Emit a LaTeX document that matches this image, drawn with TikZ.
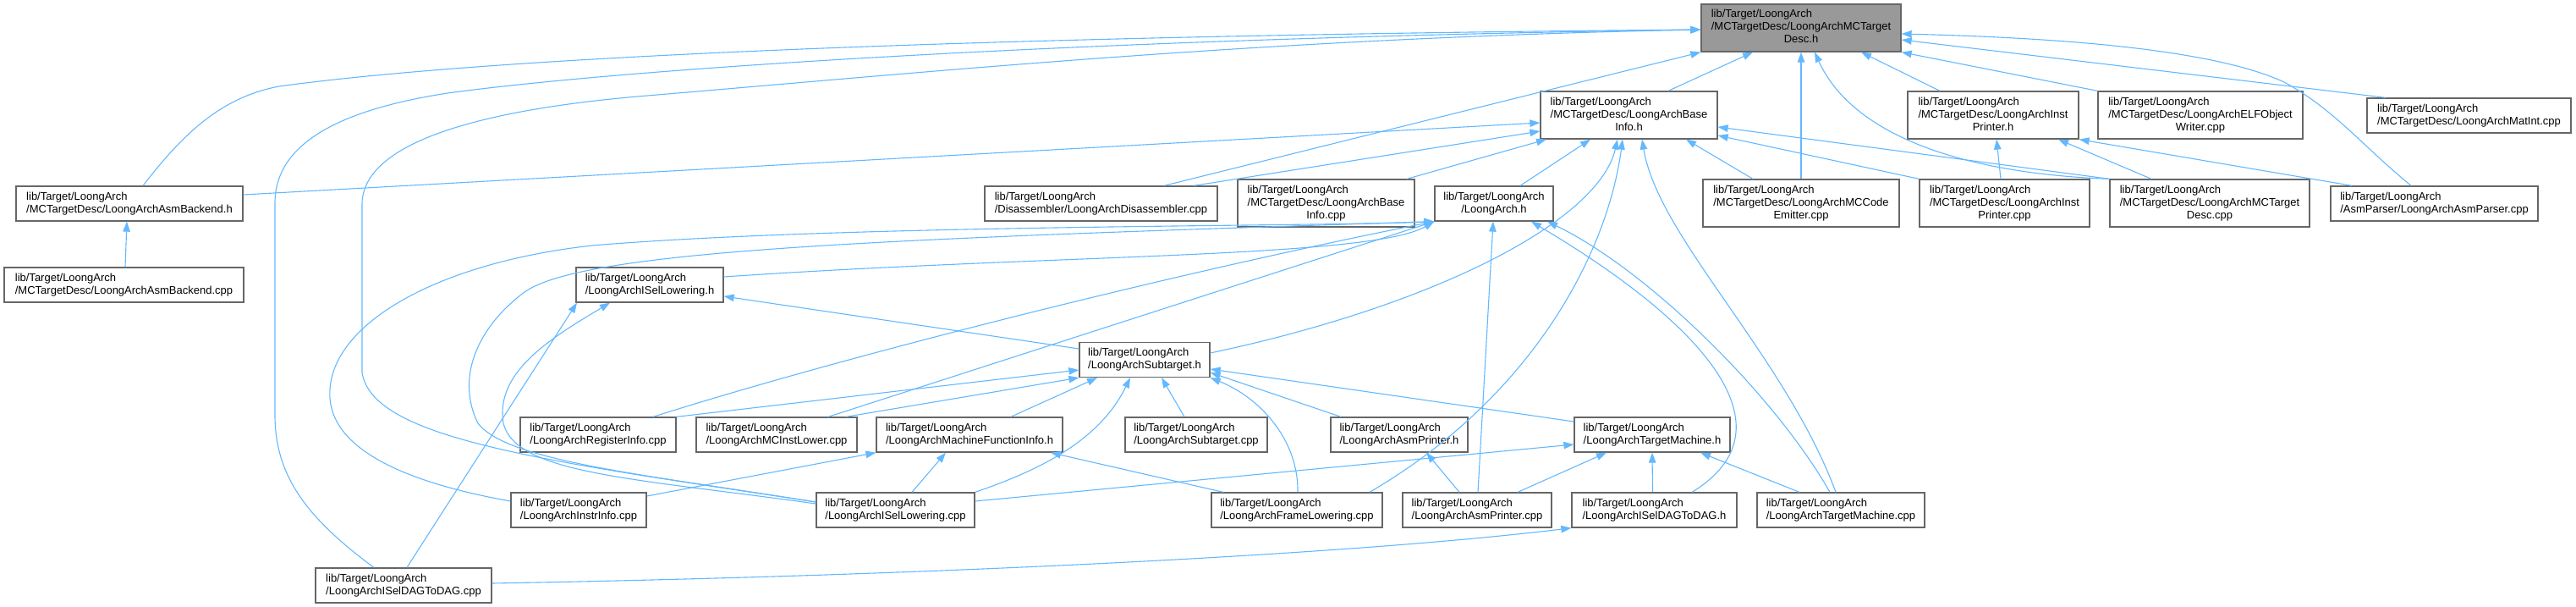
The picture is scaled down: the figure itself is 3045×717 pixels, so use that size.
\documentclass[tikz,border=0pt]{standalone}
\usepackage{fontspec}
\setmainfont{Liberation Sans}
\usetikzlibrary{arrows.meta}
\definecolor{edgeblue}{HTML}{63B8FF}
\definecolor{boxborder}{HTML}{666666}
\definecolor{rootfill}{HTML}{999999}
\newcommand{\twol}[2]{\begin{tabular}{@{}l@{}}#1\\\multicolumn{1}{@{}c@{}}{#2}\end{tabular}}
\newcommand{\threel}[3]{\begin{tabular}{@{}l@{}}#1\\#2\\\multicolumn{1}{@{}c@{}}{#3}\end{tabular}}
\tikzset{
  box/.style={draw=boxborder, line width=1.3pt, fill=white, inner sep=0pt, rectangle,
    font=\fontsize{13}{15}\selectfont, text=black},
  two/.style={minimum height=41pt},
  three/.style={minimum height=56pt},
  edge/.style={draw=edgeblue, line width=1.1pt, -{Triangle[length=12pt,width=8.5pt]}}
}
\begin{document}
\begin{tikzpicture}[x=1pt,y=-1pt]
\useasboundingbox (0,0) rectangle (3045,717);
% nodes
\node[box,three,minimum width=236pt,fill=rootfill] (R) at (2129,33) {\threel{lib/Target/LoongArch}{/MCTargetDesc/LoongArchMCTarget}{Desc.h}};
\node[box,two,minimum width=268pt] (ABh) at (153,240.5) {\twol{lib/Target/LoongArch}{/MCTargetDesc/LoongArchAsmBackend.h}};
\node[box,two,minimum width=283pt] (ABc) at (146.5,336.5) {\twol{lib/Target/LoongArch}{/MCTargetDesc/LoongArchAsmBackend.cpp}};
\node[box,two,minimum width=174pt] (ILh) at (768,336.5) {\twol{lib/Target/LoongArch}{/LoongArchISelLowering.h}};
\node[box,three,minimum width=209pt] (BIh) at (1925.5,136) {\threel{lib/Target/LoongArch}{/MCTargetDesc/LoongArchBase}{Info.h}};
\node[box,two,minimum width=275pt] (Dis) at (1301.5,240.5) {\twol{lib/Target/LoongArch}{/Disassembler/LoongArchDisassembler.cpp}};
\node[box,three,minimum width=209pt] (BIc) at (1567.5,240) {\threel{lib/Target/LoongArch}{/MCTargetDesc/LoongArchBase}{Info.cpp}};
\node[box,two,minimum width=140pt] (LAh) at (1766,240.5) {\twol{lib/Target/LoongArch}{/LoongArch.h}};
\node[box,three,minimum width=202pt] (IPh) at (2356,136) {\threel{lib/Target/LoongArch}{/MCTargetDesc/LoongArchInst}{Printer.h}};
\node[box,three,minimum width=242pt] (ELF) at (2601,136) {\threel{lib/Target/LoongArch}{/MCTargetDesc/LoongArchELFObject}{Writer.cpp}};
\node[box,two,minimum width=241pt] (MI) at (2918.5,136.5) {\twol{lib/Target/LoongArch}{/MCTargetDesc/LoongArchMatInt.cpp}};
\node[box,three,minimum width=232pt] (MCE) at (2129,240) {\threel{lib/Target/LoongArch}{/MCTargetDesc/LoongArchMCCode}{Emitter.cpp}};
\node[box,three,minimum width=201pt] (IPc) at (2369.5,240) {\threel{lib/Target/LoongArch}{/MCTargetDesc/LoongArchInst}{Printer.cpp}};
\node[box,three,minimum width=236pt] (MTDc) at (2612,240) {\threel{lib/Target/LoongArch}{/MCTargetDesc/LoongArchMCTarget}{Desc.cpp}};
\node[box,two,minimum width=245pt] (AP) at (2877.5,240.5) {\twol{lib/Target/LoongArch}{/AsmParser/LoongArchAsmParser.cpp}};
\node[box,two,minimum width=154pt] (STh) at (1353,425) {\twol{lib/Target/LoongArch}{/LoongArchSubtarget.h}};
\node[box,two,minimum width=184pt] (RI) at (707,513.5) {\twol{lib/Target/LoongArch}{/LoongArchRegisterInfo.cpp}};
\node[box,two,minimum width=190pt] (MCIL) at (918,513.5) {\twol{lib/Target/LoongArch}{/LoongArchMCInstLower.cpp}};
\node[box,two,minimum width=220pt] (MFI) at (1146,513.5) {\twol{lib/Target/LoongArch}{/LoongArchMachineFunctionInfo.h}};
\node[box,two,minimum width=168pt] (STc) at (1414,513.5) {\twol{lib/Target/LoongArch}{/LoongArchSubtarget.cpp}};
\node[box,two,minimum width=162pt] (APh) at (1654,513.5) {\twol{lib/Target/LoongArch}{/LoongArchAsmPrinter.h}};
\node[box,two,minimum width=184pt] (TMh) at (1953,513.5) {\twol{lib/Target/LoongArch}{/LoongArchTargetMachine.h}};
\node[box,two,minimum width=160pt] (II) at (684,602.5) {\twol{lib/Target/LoongArch}{/LoongArchInstrInfo.cpp}};
\node[box,two,minimum width=187pt] (ILc) at (1058.5,602.5) {\twol{lib/Target/LoongArch}{/LoongArchISelLowering.cpp}};
\node[box,two,minimum width=202pt] (FL) at (1533,602.5) {\twol{lib/Target/LoongArch}{/LoongArchFrameLowering.cpp}};
\node[box,two,minimum width=176pt] (APc) at (1746,602.5) {\twol{lib/Target/LoongArch}{/LoongArchAsmPrinter.cpp}};
\node[box,two,minimum width=195pt] (IDh) at (1955.5,602.5) {\twol{lib/Target/LoongArch}{/LoongArchISelDAGToDAG.h}};
\node[box,two,minimum width=198pt] (TMc) at (2176,602.5) {\twol{lib/Target/LoongArch}{/LoongArchTargetMachine.cpp}};
\node[box,two,minimum width=208pt] (IDc) at (477,691.5) {\twol{lib/Target/LoongArch}{/LoongArchISelDAGToDAG.cpp}};
% edges
\draw[edge] ([xshift=1.5pt]ABc.north) -- ([xshift=-3pt]ABh.south);
\draw[edge] ([xshift=16pt]ABh.north) .. controls (215,160) and (260,115) .. (330,102) .. controls (600,65) and (1200,42) .. ([yshift=-2pt]R.west);
\draw[edge] ([yshift=10.5pt]ABh.east) -- ([yshift=-9pt]BIh.west);
\draw[edge] ([xshift=46.5pt]BIh.north) -- ([xshift=-57pt]R.south);
\draw[edge] ([xshift=74.5pt]Dis.north) -- (R.south west);
\draw[edge] ([xshift=109.5pt]Dis.north) -- ([yshift=-19pt]BIh.west);
\draw[edge] ([xshift=95.5pt]BIc.north) -- ([xshift=-97.5pt]BIh.south);
\draw[edge] ([xshift=31pt]LAh.north) -- ([xshift=-45.5pt]BIh.south);
\draw[edge] ([yshift=9.5pt]ILh.east) .. controls (1250,300) and (1620,305) .. (LAh.south west);
\draw[edge] ([yshift=10.5pt]II.west) .. controls (480,570) and (385,530) .. (390,460) .. controls (395,380) and (520,310) .. (700,290) .. controls (1000,265) and (1550,268) .. (LAh.south west);
\draw[edge] ([yshift=9.5pt]ILc.west) .. controls (760,560) and (600,545) .. (565,500) .. controls (540,450) and (560,390) .. (620,345) .. controls (690,295) and (1050,282) .. (LAh.south west);
\draw[edge] ([xshift=65pt]RI.north) .. controls (1000,420) and (1400,320) .. (LAh.south west);
\draw[edge] ([xshift=61pt]MCIL.north) -- (LAh.south west);
\draw[edge] ([xshift=1pt]APc.north) -- ([xshift=-1pt]LAh.south);
\draw[edge] ([xshift=44.5pt]IDh.north) .. controls (2125,505) and (2010,380) .. ([xshift=44pt]LAh.south);
\draw[edge] ([xshift=-13pt]TMc.north) .. controls (2100,470) and (1950,320) .. ([xshift=63pt]LAh.south);
\draw[edge] ([yshift=13pt]STh.west) -- ([yshift=-13.5pt]ILh.east);
\draw[edge] ([xshift=4pt]IDc.north) -- ([xshift=-86pt]ILh.south);
\draw[edge] ([yshift=7.5pt]ILc.west) .. controls (750,565) and (610,560) .. (595,500) .. controls (585,440) and (650,400) .. ([xshift=-47pt]ILh.south);
\draw[edge] (RI.north east) -- ([yshift=-12pt]STh.west);
\draw[edge] ([xshift=82pt]MCIL.north) -- (STh.south west);
\draw[edge] ([xshift=49pt]MFI.north) -- ([xshift=-56pt]STh.south);
\draw[edge] (ILc.north east) .. controls (1230,555) and (1300,520) .. ([xshift=-17pt]STh.south);
\draw[edge] ([xshift=-14pt]STc.north) -- ([xshift=20pt]STh.south);
\draw[edge] ([xshift=1pt]FL.north) .. controls (1535,520) and (1490,470) .. (STh.south east);
\draw[edge] ([xshift=-69pt]APh.north) -- ([yshift=-15pt]STh.east);
\draw[edge] ([yshift=15.5pt]TMh.west) -- ([yshift=-11pt]STh.east);
\draw[edge] ([yshift=8pt]STh.east) .. controls (1700,360) and (1890,260) .. ([xshift=-13.5pt]BIh.south);
\draw[edge] ([xshift=19.5pt]ILc.north) -- ([xshift=-28pt]MFI.south);
\draw[edge] ([xshift=-87pt]FL.north) -- ([xshift=96pt]MFI.south);
\draw[edge] ([yshift=16.5pt]II.east) -- (MFI.south west);
\draw[edge] ([xshift=-21pt]APc.north) -- ([xshift=32pt]APh.south);
\draw[edge] ([yshift=10.5pt]ILc.east) -- ([yshift=-11.5pt]TMh.west);
\draw[edge] ([xshift=48pt]APc.north) -- ([xshift=-54pt]TMh.south);
\draw[edge] ([xshift=-2pt]IDh.north) -- (TMh.south);
\draw[edge] ([xshift=-49pt]TMc.north) -- ([xshift=57pt]TMh.south);
\draw[edge] ([yshift=2.5pt]IDc.east) .. controls (1100,680) and (1600,655) .. (IDh.south west);
\draw[edge] ([xshift=86pt]FL.north) .. controls (1810,470) and (1900,300) .. ([xshift=-7.5pt]BIh.south);
\draw[edge] ([xshift=-6pt]TMc.north) .. controls (2110,420) and (1960,280) .. ([xshift=15.5pt]BIh.south);
\draw[edge] ([xshift=-57pt]MCE.north) -- ([xshift=67.5pt]BIh.south);
\draw[edge] (IPc.north west) -- ([yshift=-24pt]BIh.east);
\draw[edge] (MTDc.north west) -- ([yshift=-14pt]BIh.east);
\draw[edge] ([xshift=-35pt]IDc.north) .. controls (360,610) and (325,560) .. (325,490) -- (325,240) .. controls (325,170) and (400,130) .. (529,110) .. controls (750,80) and (1300,45) .. ([yshift=-2pt]R.west);
\draw[edge] ([yshift=9.5pt]ILc.west) .. controls (650,545) and (440,520) .. (428,440) -- (428,240) .. controls (430,170) and (560,130) .. (765,113) .. controls (1100,85) and (1500,45) .. ([yshift=-2pt]R.west);
\draw[edge] (MCE.north) -- (R.south);
\draw[edge] ([xshift=-63pt]IPh.north) -- ([xshift=71pt]R.south);
\draw[edge] (MTDc.north west) .. controls (2320,205) and (2190,160) .. ([xshift=16pt]R.south);
\draw[edge] (ELF.north west) -- (R.south east);
\draw[edge] ([xshift=-98.5pt]MI.north) -- ([yshift=-14pt]R.east);
\draw[edge] ([xshift=-27.5pt]AP.north) .. controls (2790,170) and (2760,130) .. (2700,97) .. controls (2620,60) and (2450,45) .. ([yshift=-7pt]R.east);
\draw[edge] ([xshift=-4.5pt]IPc.north) -- ([xshift=4pt]IPh.south);
\draw[edge] ([xshift=-69pt]MTDc.north) -- ([xshift=77pt]IPh.south);
\draw[edge] ([xshift=-97.5pt]AP.north) -- (IPh.south east);
\end{tikzpicture}
\end{document}
